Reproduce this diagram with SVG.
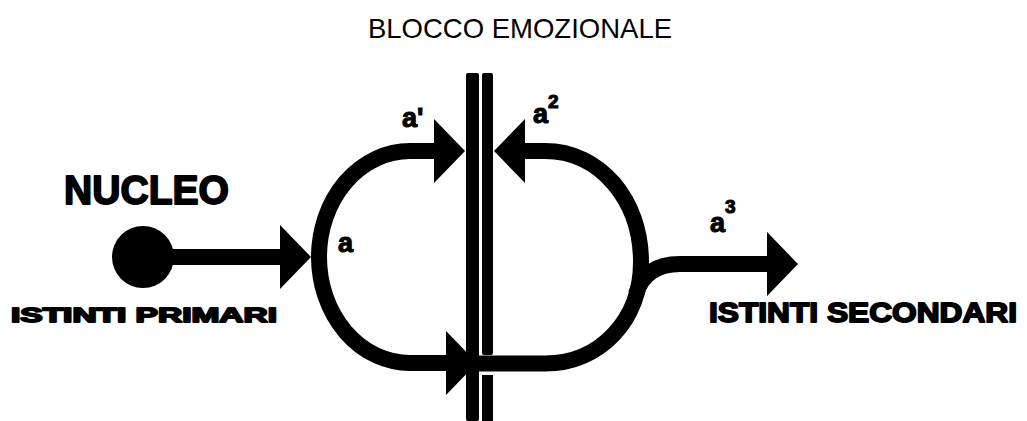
<svg xmlns="http://www.w3.org/2000/svg" width="1027" height="421" viewBox="0 0 1027 421">
  <style>
    .t { font-family: "Liberation Sans", Arial, sans-serif; fill: #000; }
    .title { font-size: 27.5px; }
    .heavy { font-weight: bold; stroke: #000; stroke-width: 1.8; stroke-linejoin: round; }
    .lbl { font-size: 27px; font-weight: bold; stroke: #000; stroke-width: 1.1; }
    .sup { font-size: 19px; }
    .ln { fill: none; stroke: #000; stroke-width: 16; stroke-linecap: butt; }
    .bar { fill: #000; }
  </style>
  <defs>
    <marker id="ah" markerUnits="userSpaceOnUse" markerWidth="31" markerHeight="64" refX="21" refY="32" orient="auto" overflow="visible">
      <path d="M0,0 L31,32 L0,64 Z" fill="#000"/>
    </marker>
  </defs>
  <rect width="1027" height="421" fill="#fff"/>

  <g id="blocco">
    <text class="t title" x="520" y="38" text-anchor="middle">BLOCCO EMOZIONALE</text>
    <rect class="bar" x="466" y="73" width="13" height="348" rx="2"/>
    <rect class="bar" x="482" y="73" width="11" height="282" rx="2"/>
    <rect class="bar" x="482" y="375" width="11" height="46"/>
  </g>

  <g id="nucleo">
    <text class="t heavy" x="64" y="204" font-size="40" textLength="165" lengthAdjust="spacingAndGlyphs" stroke-width="2.4">NUCLEO</text>
    <circle cx="143" cy="257" r="31" fill="#000"/>
    <text class="t heavy" x="11" y="322" font-size="21" textLength="266" lengthAdjust="spacingAndGlyphs">ISTINTI PRIMARI</text>
  </g>

  <g id="secondari">
    <text class="t heavy" x="709" y="322" font-size="28" textLength="308" lengthAdjust="spacingAndGlyphs">ISTINTI SECONDARI</text>
  </g>

  <g id="connectors">
    <path class="ln" d="M160 257 L301 257" marker-end="url(#ah)"/>
    <path class="ln" d="M319 257 A91 106 0 0 1 410 151 L455 151" marker-end="url(#ah)"/>
    <path class="ln" d="M319 257 A91 106 0 0 0 410 363 L467 363" marker-end="url(#ah)"/>
    <path class="ln" d="M467 363.5 L545 363.5 C600 363.5 641 320 641 262 C641 200 600 151 545 151 L504 151" marker-end="url(#ah)"/>
    <path class="ln" d="M636 294 Q645 264 680 264 L788 264" marker-end="url(#ah)"/>
  </g>

  <g id="labels">
    <text class="t lbl" x="338" y="252">a</text>
    <text class="t lbl" x="402" y="127">a'</text>
    <text class="t lbl" x="533" y="123">a<tspan class="sup" dy="-15">2</tspan></text>
    <text class="t lbl" x="710" y="232">a<tspan class="sup" dy="-19">3</tspan></text>
  </g>
</svg>
